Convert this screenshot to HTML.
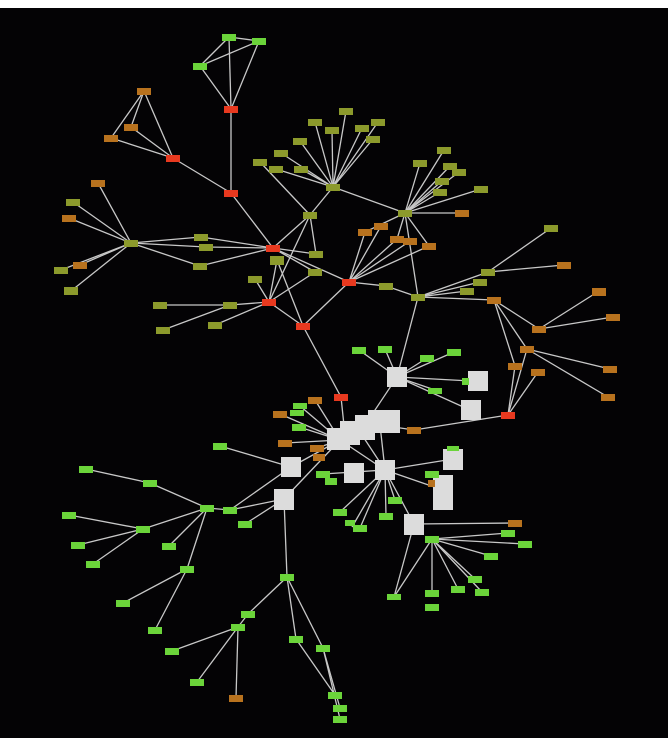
<!DOCTYPE html>
<html><head><meta charset="utf-8"><style>
html,body{margin:0;padding:0;background:#fff;}
svg{display:block;}
.e line{stroke:#c8c8c8;stroke-width:1.3;}
.G{fill:#6bd43a}.O{fill:#8c9a2c}.B{fill:#b8721e}.R{fill:#e8391f}.W{fill:#dcdcdc}
</style></head><body>
<svg width="668" height="738" xmlns="http://www.w3.org/2000/svg">
<rect x="0" y="8" width="668" height="730" fill="#040305"/>
<g class="e">
<line x1="229" y1="37" x2="259" y2="41"/><line x1="229" y1="37" x2="200" y2="66"/><line x1="259" y1="41" x2="200" y2="66"/>
<line x1="229" y1="37" x2="231" y2="109"/><line x1="259" y1="41" x2="231" y2="109"/><line x1="200" y1="66" x2="231" y2="109"/>
<line x1="231" y1="109" x2="231" y2="193"/><line x1="173" y1="158" x2="231" y2="193"/>
<line x1="144" y1="91" x2="173" y2="158"/><line x1="131" y1="127" x2="173" y2="158"/><line x1="111" y1="138" x2="173" y2="158"/>
<line x1="144" y1="91" x2="131" y2="127"/><line x1="144" y1="91" x2="111" y2="138"/>
<line x1="231" y1="193" x2="273" y2="248"/>
<line x1="131" y1="243" x2="98" y2="183"/><line x1="131" y1="243" x2="73" y2="202"/><line x1="131" y1="243" x2="69" y2="218"/>
<line x1="131" y1="243" x2="61" y2="270"/><line x1="131" y1="243" x2="80" y2="265"/><line x1="131" y1="243" x2="71" y2="291"/>
<line x1="131" y1="243" x2="201" y2="237"/><line x1="131" y1="243" x2="206" y2="247"/><line x1="131" y1="243" x2="200" y2="266"/>
<line x1="201" y1="237" x2="273" y2="248"/><line x1="206" y1="247" x2="273" y2="248"/><line x1="200" y1="266" x2="273" y2="248"/>
<line x1="310" y1="215" x2="273" y2="248"/><line x1="310" y1="215" x2="260" y2="162"/><line x1="310" y1="215" x2="333" y2="187"/>
<line x1="310" y1="215" x2="316" y2="254"/><line x1="310" y1="215" x2="269" y2="302"/><line x1="273" y1="248" x2="316" y2="254"/>
<line x1="273" y1="248" x2="315" y2="272"/><line x1="277" y1="260" x2="303" y2="326"/><line x1="273" y1="248" x2="349" y2="282"/>
<line x1="255" y1="279" x2="269" y2="302"/><line x1="230" y1="305" x2="269" y2="302"/><line x1="215" y1="325" x2="269" y2="302"/>
<line x1="160" y1="305" x2="230" y2="305"/><line x1="163" y1="330" x2="230" y2="305"/><line x1="269" y1="302" x2="303" y2="326"/>
<line x1="269" y1="302" x2="315" y2="272"/><line x1="277" y1="260" x2="269" y2="302"/><line x1="303" y1="326" x2="349" y2="282"/>
<line x1="333" y1="187" x2="315" y2="122"/><line x1="333" y1="187" x2="300" y2="141"/><line x1="333" y1="187" x2="281" y2="153"/>
<line x1="333" y1="187" x2="276" y2="169"/><line x1="333" y1="187" x2="301" y2="169"/><line x1="333" y1="187" x2="346" y2="111"/>
<line x1="333" y1="187" x2="378" y2="122"/><line x1="333" y1="187" x2="362" y2="128"/><line x1="333" y1="187" x2="373" y2="139"/>
<line x1="333" y1="187" x2="332" y2="130"/><line x1="333" y1="187" x2="405" y2="213"/>
<line x1="405" y1="213" x2="444" y2="150"/><line x1="405" y1="213" x2="420" y2="163"/><line x1="405" y1="213" x2="450" y2="166"/>
<line x1="405" y1="213" x2="459" y2="172"/><line x1="405" y1="213" x2="442" y2="181"/><line x1="405" y1="213" x2="440" y2="192"/>
<line x1="405" y1="213" x2="481" y2="189"/><line x1="405" y1="213" x2="462" y2="213"/><line x1="405" y1="213" x2="365" y2="232"/>
<line x1="405" y1="213" x2="397" y2="239"/><line x1="405" y1="213" x2="429" y2="246"/><line x1="405" y1="213" x2="418" y2="297"/>
<line x1="349" y1="282" x2="365" y2="232"/><line x1="349" y1="282" x2="381" y2="226"/><line x1="349" y1="282" x2="397" y2="239"/>
<line x1="349" y1="282" x2="410" y2="241"/><line x1="349" y1="282" x2="429" y2="246"/><line x1="349" y1="282" x2="386" y2="286"/>
<line x1="386" y1="286" x2="418" y2="297"/><line x1="418" y1="297" x2="488" y2="272"/><line x1="418" y1="297" x2="480" y2="282"/>
<line x1="418" y1="297" x2="467" y2="291"/><line x1="418" y1="297" x2="494" y2="300"/><line x1="488" y1="272" x2="551" y2="228"/>
<line x1="488" y1="272" x2="564" y2="265"/><line x1="494" y1="300" x2="539" y2="329"/><line x1="494" y1="300" x2="527" y2="349"/>
<line x1="494" y1="300" x2="515" y2="366"/><line x1="539" y1="329" x2="599" y2="291"/><line x1="539" y1="329" x2="613" y2="317"/>
<line x1="527" y1="349" x2="610" y2="369"/><line x1="527" y1="349" x2="608" y2="397"/><line x1="527" y1="349" x2="508" y2="415"/>
<line x1="515" y1="366" x2="508" y2="415"/><line x1="538" y1="372" x2="508" y2="415"/>
<line x1="418" y1="297" x2="397" y2="377"/><line x1="303" y1="326" x2="341" y2="397"/>
<line x1="397" y1="377" x2="359" y2="350"/><line x1="397" y1="377" x2="385" y2="349"/><line x1="397" y1="377" x2="427" y2="358"/>
<line x1="397" y1="377" x2="454" y2="352"/><line x1="397" y1="377" x2="471" y2="381"/><line x1="397" y1="377" x2="435" y2="390"/>
<line x1="397" y1="377" x2="470" y2="410"/><line x1="397" y1="377" x2="365" y2="425"/>
<line x1="508" y1="415" x2="414" y2="430"/><line x1="414" y1="430" x2="380" y2="425"/>
<line x1="341" y1="397" x2="345" y2="435"/>
<line x1="340" y1="440" x2="315" y2="400"/><line x1="340" y1="440" x2="280" y2="414"/><line x1="340" y1="440" x2="300" y2="406"/>
<line x1="340" y1="440" x2="299" y2="427"/><line x1="340" y1="440" x2="285" y2="443"/><line x1="340" y1="440" x2="317" y2="448"/>
<line x1="340" y1="440" x2="291" y2="467"/><line x1="340" y1="440" x2="284" y2="499"/><line x1="340" y1="440" x2="385" y2="470"/>
<line x1="360" y1="432" x2="385" y2="470"/><line x1="380" y1="425" x2="385" y2="470"/>
<line x1="291" y1="467" x2="220" y2="446"/><line x1="284" y1="499" x2="230" y2="510"/><line x1="284" y1="499" x2="245" y2="524"/>
<line x1="291" y1="467" x2="230" y2="510"/><line x1="284" y1="499" x2="287" y2="577"/>
<line x1="385" y1="470" x2="453" y2="459"/><line x1="385" y1="470" x2="443" y2="490"/><line x1="385" y1="470" x2="414" y2="524"/>
<line x1="385" y1="470" x2="323" y2="474"/><line x1="385" y1="470" x2="340" y2="512"/><line x1="385" y1="470" x2="360" y2="528"/>
<line x1="385" y1="470" x2="386" y2="516"/><line x1="385" y1="470" x2="395" y2="500"/><line x1="385" y1="470" x2="352" y2="527"/>
<line x1="414" y1="524" x2="515" y2="523"/><line x1="432" y1="539" x2="508" y2="533"/><line x1="432" y1="539" x2="525" y2="544"/>
<line x1="432" y1="539" x2="491" y2="556"/><line x1="432" y1="539" x2="475" y2="579"/><line x1="432" y1="539" x2="482" y2="592"/>
<line x1="432" y1="539" x2="458" y2="589"/><line x1="432" y1="539" x2="432" y2="593"/><line x1="432" y1="539" x2="394" y2="597"/>
<line x1="414" y1="524" x2="394" y2="597"/>
<line x1="207" y1="508" x2="150" y2="483"/><line x1="150" y1="483" x2="86" y2="469"/><line x1="207" y1="508" x2="143" y2="529"/>
<line x1="143" y1="529" x2="69" y2="515"/><line x1="143" y1="529" x2="78" y2="545"/><line x1="143" y1="529" x2="93" y2="564"/>
<line x1="207" y1="508" x2="169" y2="546"/><line x1="207" y1="508" x2="187" y2="569"/><line x1="187" y1="569" x2="123" y2="603"/>
<line x1="187" y1="569" x2="155" y2="630"/><line x1="207" y1="508" x2="230" y2="510"/>
<line x1="287" y1="577" x2="248" y2="614"/><line x1="248" y1="614" x2="238" y2="627"/><line x1="238" y1="627" x2="172" y2="651"/>
<line x1="238" y1="627" x2="197" y2="682"/><line x1="238" y1="627" x2="236" y2="698"/><line x1="287" y1="577" x2="296" y2="639"/>
<line x1="287" y1="577" x2="323" y2="648"/><line x1="296" y1="639" x2="335" y2="695"/><line x1="323" y1="648" x2="340" y2="708"/>
<line x1="323" y1="648" x2="340" y2="719"/>
</g>
<g>
<rect class="W" x="387" y="367" width="20" height="20"/>
<rect class="W" x="468" y="371" width="20" height="20"/>
<rect class="W" x="461" y="400" width="20" height="20"/>
<rect class="W" x="327" y="428" width="23" height="22"/>
<rect class="W" x="340" y="421" width="20" height="24"/>
<rect class="W" x="355" y="415" width="20" height="25"/>
<rect class="W" x="368" y="410" width="32" height="23"/>
<rect class="W" x="344" y="463" width="20" height="20"/>
<rect class="W" x="375" y="460" width="20" height="20"/>
<rect class="W" x="281" y="457" width="20" height="20"/>
<rect class="W" x="274" y="489" width="20" height="21"/>
<rect class="W" x="443" y="449" width="20" height="21"/>
<rect class="W" x="433" y="475" width="20" height="35"/>
<rect class="W" x="439" y="475" width="14" height="20"/>
<rect class="W" x="404" y="514" width="20" height="21"/>
</g>
<g>
<rect class="G" x="222" y="34" width="14" height="7"/><rect class="G" x="252" y="38" width="14" height="7"/><rect class="G" x="193" y="63" width="14" height="7"/>
<rect class="R" x="224" y="106" width="14" height="7"/><rect class="R" x="224" y="190" width="14" height="7"/><rect class="R" x="166" y="155" width="14" height="7"/>
<rect class="B" x="137" y="88" width="14" height="7"/><rect class="B" x="124" y="124" width="14" height="7"/><rect class="B" x="104" y="135" width="14" height="7"/>
<rect class="R" x="266" y="245" width="14" height="7"/><rect class="O" x="124" y="240" width="14" height="7"/>
<rect class="B" x="91" y="180" width="14" height="7"/><rect class="O" x="66" y="199" width="14" height="7"/><rect class="B" x="62" y="215" width="14" height="7"/>
<rect class="O" x="54" y="267" width="14" height="7"/><rect class="B" x="73" y="262" width="14" height="7"/><rect class="O" x="64" y="287" width="14" height="8"/>
<rect class="O" x="194" y="234" width="14" height="7"/><rect class="O" x="199" y="244" width="14" height="7"/><rect class="O" x="193" y="263" width="14" height="7"/>
<rect class="O" x="270" y="256" width="14" height="9"/><rect class="O" x="303" y="212" width="14" height="7"/><rect class="O" x="309" y="251" width="14" height="7"/><rect class="O" x="308" y="269" width="14" height="7"/>
<rect class="O" x="248" y="276" width="14" height="7"/><rect class="O" x="223" y="302" width="14" height="7"/><rect class="R" x="262" y="299" width="14" height="7"/><rect class="R" x="296" y="323" width="14" height="7"/>
<rect class="O" x="153" y="302" width="14" height="7"/><rect class="O" x="156" y="327" width="14" height="7"/><rect class="O" x="208" y="322" width="14" height="7"/><rect class="O" x="253" y="159" width="14" height="7"/>
<rect class="O" x="308" y="119" width="14" height="7"/><rect class="O" x="293" y="138" width="14" height="7"/><rect class="O" x="274" y="150" width="14" height="7"/>
<rect class="O" x="269" y="166" width="14" height="7"/><rect class="O" x="294" y="166" width="14" height="7"/><rect class="O" x="326" y="184" width="14" height="7"/>
<rect class="O" x="339" y="108" width="14" height="7"/><rect class="O" x="371" y="119" width="14" height="7"/><rect class="O" x="355" y="125" width="14" height="7"/><rect class="O" x="366" y="136" width="14" height="7"/><rect class="O" x="325" y="127" width="14" height="7"/>
<rect class="O" x="398" y="210" width="14" height="7"/>
<rect class="O" x="437" y="147" width="14" height="7"/><rect class="O" x="413" y="160" width="14" height="7"/><rect class="O" x="443" y="163" width="14" height="7"/>
<rect class="O" x="452" y="169" width="14" height="7"/><rect class="O" x="435" y="178" width="14" height="7"/><rect class="O" x="433" y="189" width="14" height="7"/>
<rect class="O" x="474" y="186" width="14" height="7"/><rect class="B" x="455" y="210" width="14" height="7"/>
<rect class="R" x="342" y="279" width="14" height="7"/>
<rect class="B" x="358" y="229" width="14" height="7"/><rect class="B" x="374" y="223" width="14" height="7"/><rect class="B" x="390" y="236" width="14" height="7"/><rect class="B" x="403" y="238" width="14" height="7"/><rect class="B" x="422" y="243" width="14" height="7"/>
<rect class="O" x="379" y="283" width="14" height="7"/><rect class="O" x="411" y="294" width="14" height="7"/>
<rect class="O" x="481" y="269" width="14" height="7"/><rect class="O" x="473" y="279" width="14" height="7"/><rect class="O" x="460" y="288" width="14" height="7"/>
<rect class="O" x="544" y="225" width="14" height="7"/><rect class="B" x="557" y="262" width="14" height="7"/><rect class="B" x="487" y="297" width="14" height="7"/>
<rect class="B" x="532" y="326" width="14" height="7"/><rect class="B" x="520" y="346" width="14" height="7"/><rect class="B" x="592" y="288" width="14" height="8"/><rect class="B" x="606" y="314" width="14" height="7"/>
<rect class="B" x="508" y="363" width="14" height="7"/><rect class="B" x="531" y="369" width="14" height="7"/><rect class="B" x="603" y="366" width="14" height="7"/><rect class="B" x="601" y="394" width="14" height="7"/>
<rect class="R" x="501" y="412" width="14" height="7"/>
<rect class="G" x="352" y="347" width="14" height="7"/><rect class="G" x="378" y="346" width="14" height="7"/><rect class="G" x="420" y="355" width="14" height="7"/><rect class="G" x="447" y="349" width="14" height="7"/>
<rect class="G" x="428" y="388" width="14" height="6"/><rect class="G" x="462" y="378" width="7" height="7"/>
<rect class="R" x="334" y="394" width="14" height="7"/><rect class="B" x="407" y="427" width="14" height="7"/>
<rect class="B" x="308" y="397" width="14" height="7"/><rect class="B" x="273" y="411" width="14" height="7"/><rect class="G" x="293" y="403" width="14" height="6"/><rect class="G" x="290" y="410" width="14" height="6"/>
<rect class="G" x="292" y="424" width="14" height="7"/><rect class="B" x="278" y="440" width="14" height="7"/><rect class="B" x="310" y="445" width="14" height="7"/><rect class="B" x="313" y="454" width="12" height="7"/>
<rect class="G" x="213" y="443" width="14" height="7"/><rect class="G" x="79" y="466" width="14" height="7"/><rect class="G" x="143" y="480" width="14" height="7"/>
<rect class="G" x="200" y="505" width="14" height="7"/><rect class="G" x="223" y="507" width="14" height="7"/><rect class="G" x="238" y="521" width="14" height="7"/>
<rect class="G" x="62" y="512" width="14" height="7"/><rect class="G" x="136" y="526" width="14" height="7"/><rect class="G" x="71" y="542" width="14" height="7"/>
<rect class="G" x="86" y="561" width="14" height="7"/><rect class="G" x="162" y="543" width="14" height="7"/><rect class="G" x="180" y="566" width="14" height="7"/>
<rect class="G" x="116" y="600" width="14" height="7"/><rect class="G" x="148" y="627" width="14" height="7"/><rect class="G" x="280" y="574" width="14" height="7"/>
<rect class="G" x="241" y="611" width="14" height="7"/><rect class="G" x="231" y="624" width="14" height="7"/><rect class="G" x="165" y="648" width="14" height="7"/>
<rect class="G" x="190" y="679" width="14" height="7"/><rect class="B" x="229" y="695" width="14" height="7"/><rect class="G" x="289" y="636" width="14" height="7"/>
<rect class="G" x="316" y="645" width="14" height="7"/><rect class="G" x="328" y="692" width="14" height="7"/><rect class="G" x="333" y="705" width="14" height="7"/><rect class="G" x="333" y="716" width="14" height="7"/>
<rect class="G" x="316" y="471" width="14" height="7"/><rect class="G" x="325" y="478" width="12" height="7"/><rect class="G" x="333" y="509" width="14" height="7"/><rect class="G" x="353" y="525" width="14" height="7"/><rect class="G" x="345" y="520" width="10" height="6"/>
<rect class="G" x="379" y="513" width="14" height="7"/><rect class="G" x="388" y="497" width="14" height="7"/><rect class="G" x="447" y="446" width="12" height="5"/>
<rect class="G" x="425" y="471" width="14" height="7"/><rect class="B" x="428" y="480" width="7" height="7"/>
<rect class="G" x="425" y="536" width="14" height="7"/><rect class="B" x="508" y="520" width="14" height="7"/><rect class="G" x="501" y="530" width="14" height="7"/>
<rect class="G" x="518" y="541" width="14" height="7"/><rect class="G" x="484" y="553" width="14" height="7"/><rect class="G" x="468" y="576" width="14" height="7"/>
<rect class="G" x="475" y="589" width="14" height="7"/><rect class="G" x="451" y="586" width="14" height="7"/><rect class="G" x="425" y="590" width="14" height="7"/>
<rect class="G" x="425" y="604" width="14" height="7"/><rect class="G" x="387" y="594" width="14" height="6"/>
</g>
</svg>
</body></html>
